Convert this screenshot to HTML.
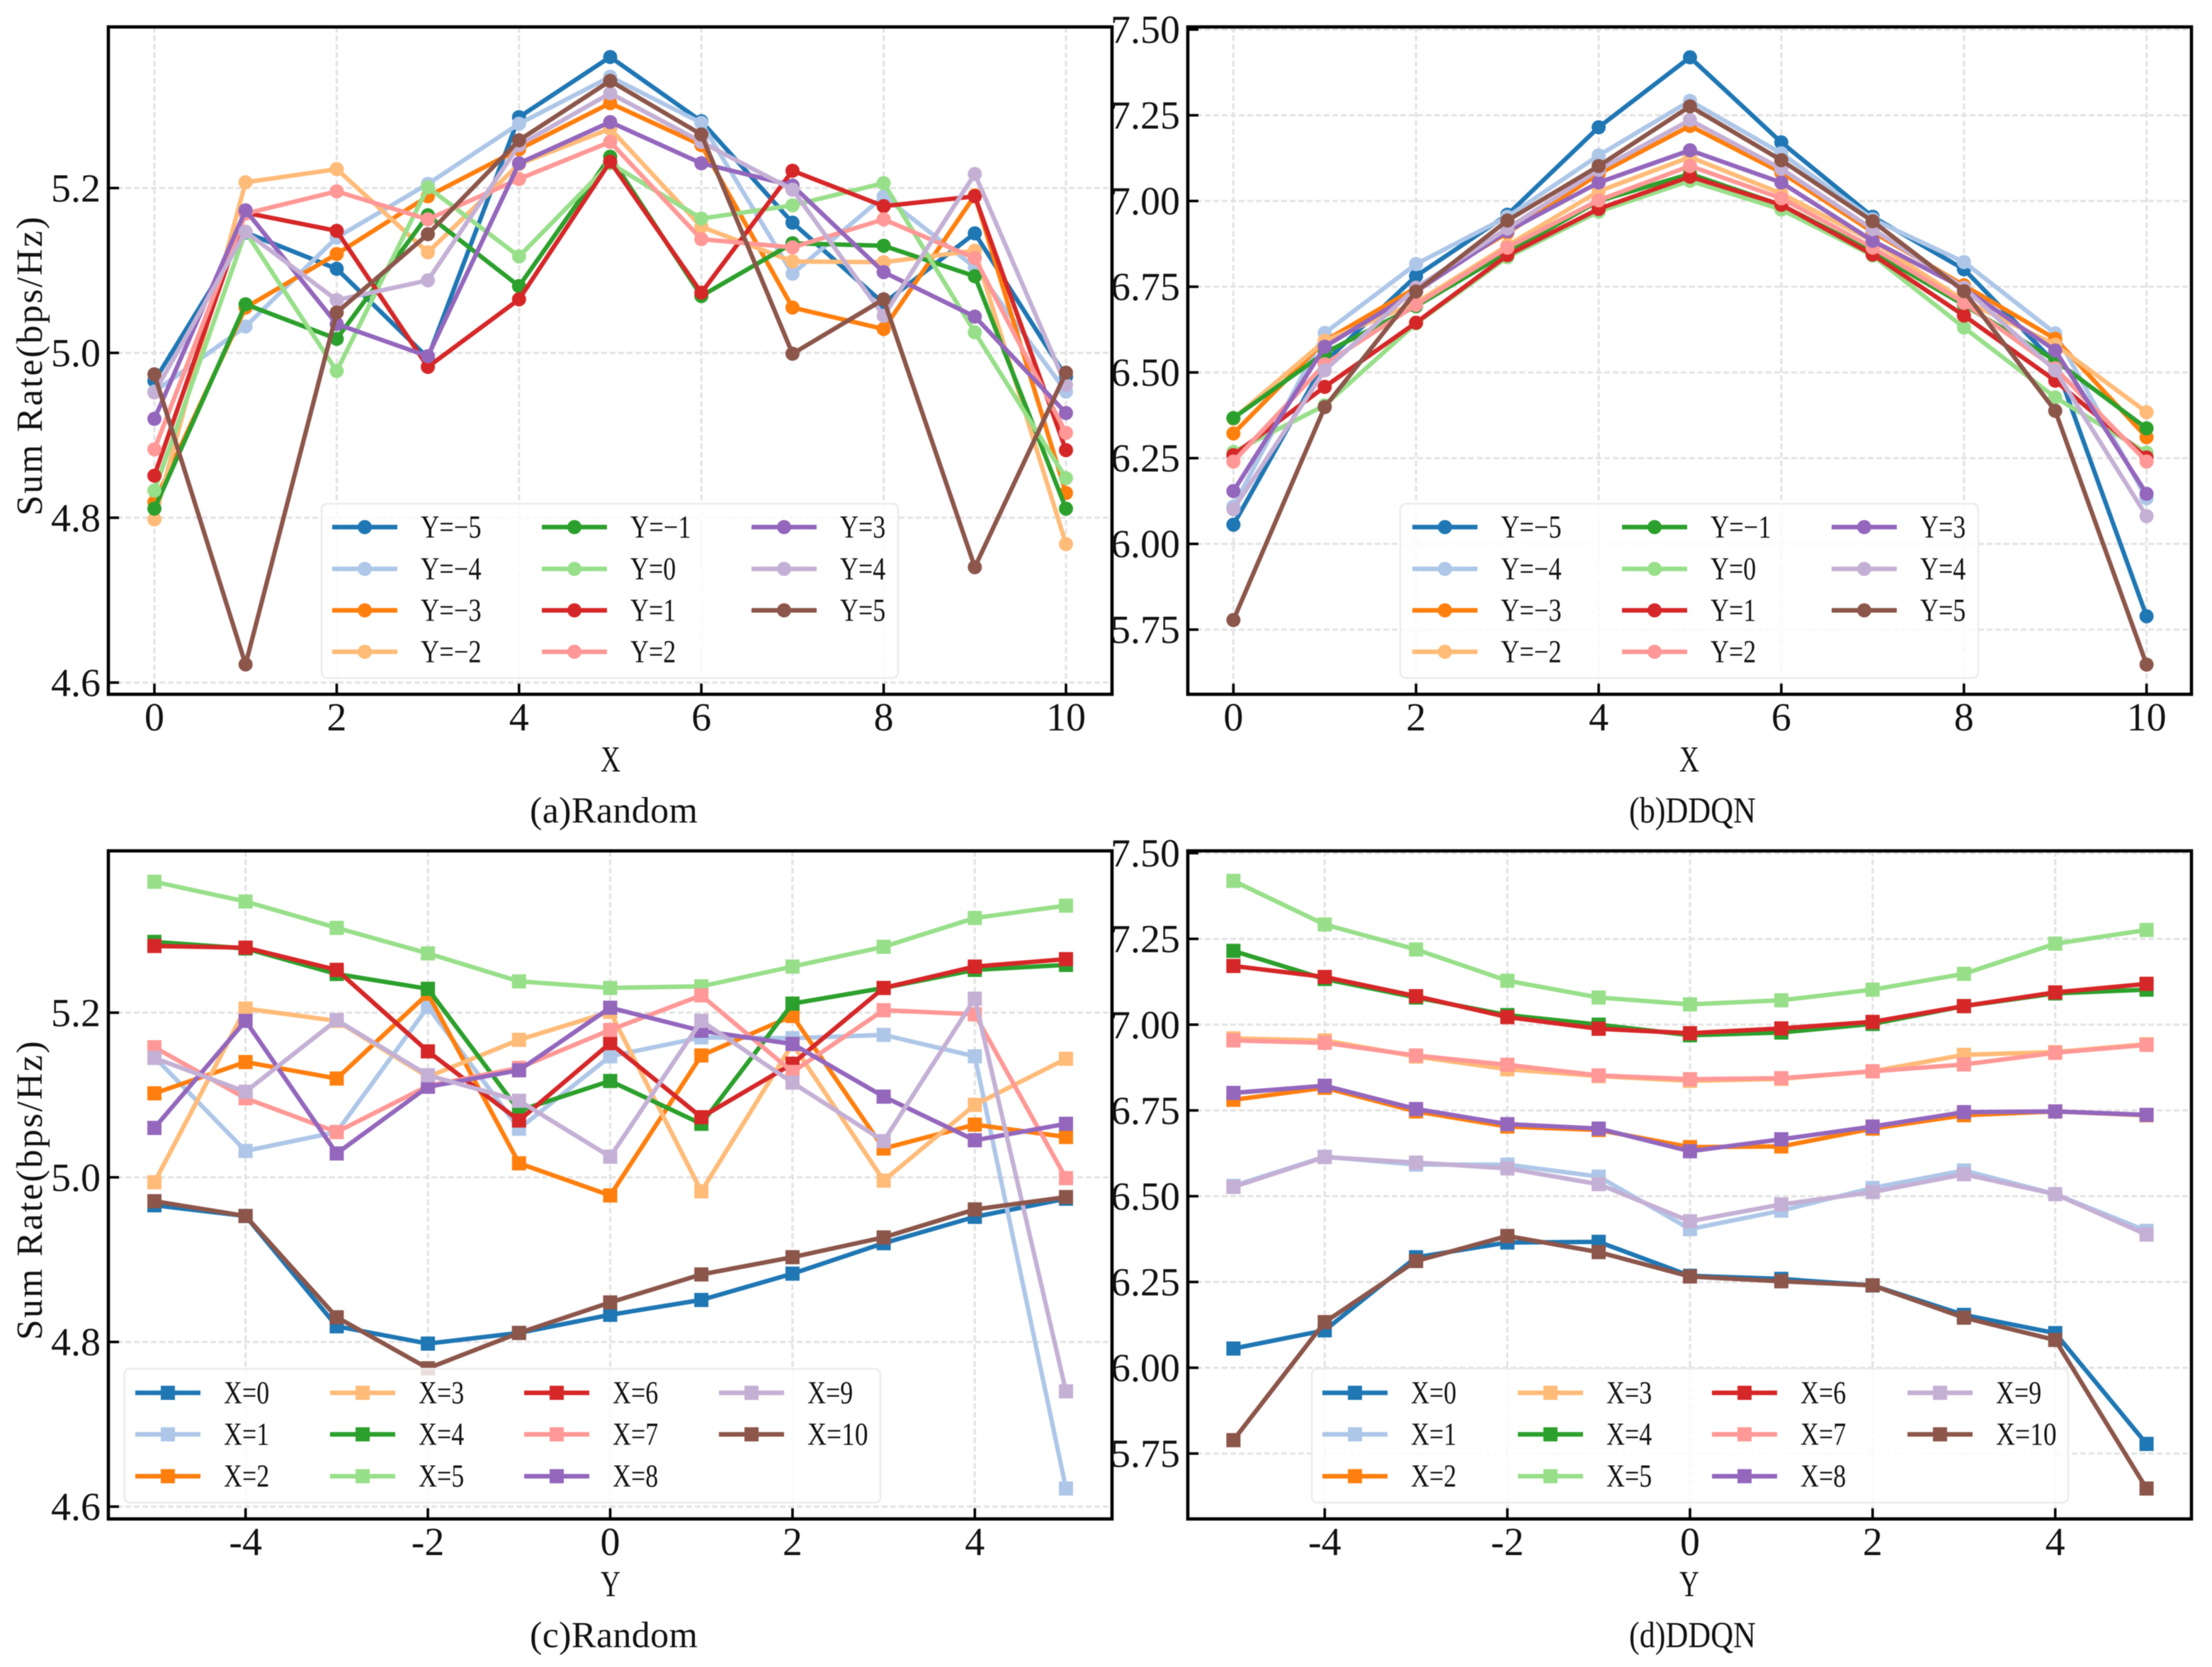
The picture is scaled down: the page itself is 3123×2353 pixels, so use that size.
<!DOCTYPE html>
<html lang="en">
<head>
<meta charset="utf-8">
<title>Sum Rate: Random vs DDQN</title>
<style>
  html, body { margin: 0; padding: 0; background: #fff; }
  svg { display: block; filter: blur(0.6px); }
  text { font-family: "Liberation Serif", "Noto Serif CJK SC", serif; fill: #111; }
</style>
</head>
<body>
<svg id="figure" xmlns="http://www.w3.org/2000/svg" width="3123" height="2353" viewBox="0 0 3123 2353">
  <rect x="0" y="0" width="3123" height="2353" fill="#ffffff"></rect>
  <g id="panel-a"></g>
  <g id="panel-b"></g>
  <g id="panel-c"></g>
  <g id="panel-d"></g>
</svg>
<script>
// Category values: each row below is one X, each column one Y.
const xCategories = [0, 1, 2, 3, 4, 5, 6, 7, 8, 9, 10];
const yCategories = [-5, -4, -3, -2, -1, 0, 1, 2, 3, 4, 5];

// Random policy: sum rate at X = n, for Y = -5 ... 5
const randomX0  = [4.966, 4.953, 4.819, 4.798, 4.811, 4.833, 4.851, 4.883, 4.920, 4.952, 4.974];
const randomX1  = [5.146, 5.032, 5.055, 5.207, 5.059, 5.147, 5.170, 5.169, 5.173, 5.147, 4.622];
const randomX2  = [5.102, 5.140, 5.120, 5.223, 5.017, 4.978, 5.148, 5.196, 5.035, 5.064, 5.049];
const randomX3  = [4.994, 5.205, 5.190, 5.122, 5.167, 5.201, 4.983, 5.162, 4.996, 5.088, 5.144];
const randomX4  = [5.286, 5.278, 5.247, 5.229, 5.081, 5.117, 5.065, 5.211, 5.230, 5.252, 5.258];
const randomX5  = [5.359, 5.335, 5.303, 5.272, 5.238, 5.230, 5.232, 5.256, 5.280, 5.315, 5.330];
const randomX6  = [5.281, 5.279, 5.252, 5.153, 5.069, 5.163, 5.073, 5.138, 5.230, 5.256, 5.265];
const randomX7  = [5.158, 5.096, 5.055, 5.111, 5.133, 5.179, 5.221, 5.128, 5.203, 5.198, 4.999];
const randomX8  = [5.060, 5.190, 5.029, 5.110, 5.130, 5.206, 5.178, 5.162, 5.098, 5.045, 5.065];
const randomX9  = [5.145, 5.104, 5.191, 5.124, 5.093, 5.025, 5.190, 5.115, 5.044, 5.217, 4.740];
const randomX10 = [4.971, 4.953, 4.830, 4.768, 4.811, 4.848, 4.882, 4.903, 4.927, 4.961, 4.976];

// DDQN policy: sum rate at X = n, for Y = -5 ... 5
const ddqnX0  = [6.056, 6.109, 6.322, 6.365, 6.367, 6.268, 6.259, 6.240, 6.154, 6.101, 5.778];
const ddqnX1  = [6.530, 6.615, 6.592, 6.592, 6.557, 6.404, 6.458, 6.524, 6.575, 6.506, 6.399];
const ddqnX2  = [6.781, 6.816, 6.747, 6.703, 6.693, 6.643, 6.645, 6.697, 6.736, 6.747, 6.736];
const ddqnX3  = [6.960, 6.954, 6.907, 6.870, 6.850, 6.836, 6.842, 6.864, 6.912, 6.920, 6.943];
const ddqnX4  = [7.215, 7.133, 7.079, 7.028, 7.000, 6.969, 6.977, 7.002, 7.054, 7.091, 7.102];
const ddqnX5  = [7.419, 7.292, 7.219, 7.128, 7.079, 7.059, 7.071, 7.102, 7.148, 7.236, 7.276];
const ddqnX6  = [7.171, 7.139, 7.083, 7.022, 6.988, 6.975, 6.989, 7.008, 7.054, 7.094, 7.119];
const ddqnX7  = [6.954, 6.947, 6.910, 6.883, 6.852, 6.841, 6.844, 6.864, 6.884, 6.918, 6.941];
const ddqnX8  = [6.801, 6.822, 6.754, 6.710, 6.697, 6.631, 6.666, 6.703, 6.745, 6.747, 6.737];
const ddqnX9  = [6.527, 6.614, 6.598, 6.581, 6.535, 6.427, 6.476, 6.512, 6.564, 6.506, 6.388];
const ddqnX10 = [5.789, 6.133, 6.311, 6.384, 6.337, 6.266, 6.252, 6.240, 6.146, 6.081, 5.648];

const randomRates = [randomX0, randomX1, randomX2, randomX3, randomX4, randomX5, randomX6, randomX7, randomX8, randomX9, randomX10];
const ddqnRates = [ddqnX0, ddqnX1, ddqnX2, ddqnX3, ddqnX4, ddqnX5, ddqnX6, ddqnX7, ddqnX8, ddqnX9, ddqnX10];

// Tick labels
const xTicksByX = [0, 2, 4, 6, 8, 10];
const xTicksByY = [-4, -2, 0, 2, 4];
const randomYTicks = ["4.6", "4.8", "5.0", "5.2"];
const ddqnYTicks = ["5.75", "6.00", "6.25", "6.50", "6.75", "7.00", "7.25", "7.50"];

const seriesColors = ["#1f77b4", "#aec7e8", "#ff7f0e", "#ffbb78", "#2ca02c", "#98df8a", "#d62728", "#ff9896", "#9467bd", "#c5b0d5", "#8c564b"];

const NS = "http://www.w3.org/2000/svg";

function make(parent, tag, attrs) {
  const el = document.createElementNS(NS, tag);
  for (const k in attrs) el.setAttribute(k, attrs[k]);
  parent.appendChild(el);
  return el;
}

function drawMarker(parent, kind, cx, cy, color) {
  if (kind === "circle") {
    return make(parent, "circle", { cx: cx, cy: cy, r: 10, fill: color });
  }
  return make(parent, "rect", { x: cx - 10, y: cy - 10, width: 20, height: 20, fill: color });
}

function drawPanel(cfg) {
  const root = document.getElementById(cfg.id);
  const xScale = function (v) { return cfg.x0 + (v - cfg.xRef) * cfg.xUnit; };
  const yScale = function (v) { return cfg.yRefPx + (cfg.yRef - v) * cfg.yUnit; };

  // Grid
  cfg.xTicks.forEach(function (t) {
    const g = make(root, "line", { x1: xScale(t), x2: xScale(t), y1: cfg.top, y2: cfg.bottom, stroke: "#e3e3e3", "stroke-width": 3.2, "stroke-dasharray": "8 4" });
    
    
  });
  cfg.yTicks.forEach(function (t) {
    const v = parseFloat(t);
    const g = make(root, "line", { x1: cfg.left, x2: cfg.right, y1: yScale(v), y2: yScale(v), stroke: "#e3e3e3", "stroke-width": 3.2, "stroke-dasharray": "8 4" });
    
    
  });

  // Series
  cfg.series.forEach(function (s, i) {
    const group = make(root, "g", {});
    
    
    const pts = s.values.map(function (v, j) { return xScale(cfg.categories[j]).toFixed(1) + "," + yScale(v).toFixed(1); }).join(" ");
    const line = make(group, "polyline", { points: pts, fill: "none", stroke: seriesColors[i], "stroke-width": 6.3, "stroke-linejoin": "round" });
    
    
    s.values.forEach(function (v, j) {
      const m = drawMarker(group, cfg.marker, xScale(cfg.categories[j]), yScale(v), seriesColors[i]);
      
      
    });
  });

  // Legend
  const lg = make(root, "g", {});
  
  
  const frame = make(lg, "rect", { x: cfg.legend.x, y: cfg.legend.y, width: cfg.legend.w, height: cfg.legend.h, rx: 8, ry: 8, fill: "#ffffff", "fill-opacity": 0.8, stroke: "#ebebeb", "stroke-width": 2.5 });
  
  
  cfg.series.forEach(function (s, i) {
    const counts = cfg.legend.columnCounts;
    let col = 0, rem = i;
    while (rem >= counts[col]) { rem -= counts[col]; col++; }
    const ry = cfg.legend.rows[rem];
    const hx = cfg.legend.cols[col];
    const entry = make(lg, "g", {});
    
    
    const h = make(entry, "line", { x1: hx, x2: hx + 92, y1: ry, y2: ry, stroke: seriesColors[i], "stroke-width": 6.5 });
    
    
    const mk = drawMarker(entry, cfg.marker, hx + 46, ry, seriesColors[i]);
    
    
    const label = s.label;
    const t = make(entry, "text", { x: hx + 125, y: ry + 15, "font-size": 45, textLength: (21.4 * label.length).toFixed(1), lengthAdjust: "spacingAndGlyphs" });
    t.textContent = label;
    
    
  });

  // Ticks and tick labels
  cfg.xTicks.forEach(function (t) {
    const tk = make(root, "line", { x1: xScale(t), x2: xScale(t), y1: cfg.bottom, y2: cfg.bottom - 15, stroke: "#000", "stroke-width": 3.6 });
    
    
    const lb = make(root, "text", { x: xScale(t), y: cfg.bottom + 51, "font-size": 56, "text-anchor": "middle" });
    lb.textContent = String(t);
    
    
  });
  cfg.yTicks.forEach(function (t) {
    const v = parseFloat(t);
    const tk = make(root, "line", { x1: cfg.left, x2: cfg.left + 15, y1: yScale(v), y2: yScale(v), stroke: "#000", "stroke-width": 3.6 });
    
    
    const lb = make(root, "text", { x: cfg.left - 11, y: yScale(v) + 19, "font-size": 56, "text-anchor": "end" });
    lb.textContent = t;
    
    
  });

  // Spines
  const sp = make(root, "rect", { x: cfg.left, y: cfg.top, width: cfg.right - cfg.left, height: cfg.bottom - cfg.top, fill: "none", stroke: "#000", "stroke-width": 4.6 });
  
  

  // Axis titles
  const xt = make(root, "text", { x: cfg.xTitleX - 14, y: cfg.bottom + 109, "font-size": 52, textLength: 28, lengthAdjust: "spacingAndGlyphs" });
  xt.textContent = cfg.xTitle;
  
  

  if (cfg.yTitle) {
    const midY = (cfg.top + cfg.bottom) / 2 + 8;
    const yt = make(root, "text", { x: 0, y: 0, "font-size": 52, textLength: 422, lengthAdjust: "spacing", transform: "translate(59," + (midY + 211) + ") rotate(-90)" });
    yt.textContent = cfg.yTitle;
    
    
  }

  const cap = make(root, "text", { x: cfg.captionX, y: cfg.bottom + 181, "font-size": 52, textLength: cfg.captionLen, lengthAdjust: cfg.captionAdjust });
  cap.textContent = cfg.caption;
  
  
}

function seriesByY(rates) {
  return yCategories.map(function (y, j) {
    return { key: "y" + y, label: "Y=" + String(y).replace("-", "\u2212"), values: rates.map(function (row) { return row[j]; }) };
  });
}
function seriesByX(rates) {
  return xCategories.map(function (x, i) {
    return { key: "x" + x, label: "X=" + x, values: rates[i] };
  });
}

const topCounts = [4, 4, 3];
const bottomCounts = [3, 3, 3, 2];

drawPanel({
  id: "panel-a", left: 153, right: 1570, top: 38, bottom: 980,
  x0: 218, xRef: 0, xUnit: 128.7, yRef: 5.0, yRefPx: 498.1, yUnit: 1163.4,
  categories: xCategories, xTicks: xTicksByX, yTicks: randomYTicks,
  series: seriesByY(randomRates), marker: "circle", legendPrefix: "Y",
  legend: { x: 454, y: 711, w: 814, h: 246, rows: [744, 803, 861.5, 920], cols: [469, 765, 1061], columnCounts: topCounts },
  xTitle: "X", xTitleX: 862, yTitle: "Sum Rate(bps/Hz)", caption: "(a)Random", captionX: 748, captionLen: 237, captionAdjust: "spacing"
});
drawPanel({
  id: "panel-b", left: 1677, right: 3094, top: 38, bottom: 980,
  x0: 1741.4, xRef: 0, xUnit: 128.92, yRef: 7.0, yRefPx: 283.7, yUnit: 484,
  categories: xCategories, xTicks: xTicksByX, yTicks: ddqnYTicks,
  series: seriesByY(ddqnRates), marker: "circle", legendPrefix: "Y",
  legend: { x: 1977, y: 711, w: 816, h: 246, rows: [744, 803, 861.5, 920], cols: [1994, 2290, 2586], columnCounts: topCounts },
  xTitle: "X", xTitleX: 2385, yTitle: "", caption: "(b)DDQN", captionX: 2300, captionLen: 179, captionAdjust: "spacingAndGlyphs"
});
drawPanel({
  id: "panel-c", left: 153, right: 1570, top: 1201, bottom: 2144,
  x0: 218, xRef: -5, xUnit: 128.7, yRef: 5.0, yRefPx: 1661.8, yUnit: 1162,
  categories: yCategories, xTicks: xTicksByY, yTicks: randomYTicks,
  series: seriesByX(randomRates), marker: "square", legendPrefix: "X",
  legend: { x: 175.5, y: 1932, w: 1067.5, h: 189, rows: [1966, 2024.6, 2083.7], cols: [191, 466, 740, 1015], columnCounts: bottomCounts },
  xTitle: "Y", xTitleX: 862, yTitle: "Sum Rate(bps/Hz)", caption: "(c)Random", captionX: 748, captionLen: 237, captionAdjust: "spacing"
});
drawPanel({
  id: "panel-d", left: 1677, right: 3094, top: 1201, bottom: 2144,
  x0: 1741.4, xRef: -5, xUnit: 128.92, yRef: 7.0, yRefPx: 1446.3, yUnit: 484.3,
  categories: yCategories, xTicks: xTicksByY, yTicks: ddqnYTicks,
  series: seriesByX(ddqnRates), marker: "square", legendPrefix: "X",
  legend: { x: 1852, y: 1932, w: 1068, h: 189, rows: [1966, 2024.6, 2083.7], cols: [1867, 2143, 2417, 2693], columnCounts: bottomCounts },
  xTitle: "Y", xTitleX: 2385, yTitle: "", caption: "(d)DDQN", captionX: 2300, captionLen: 179, captionAdjust: "spacingAndGlyphs"
});
</script>
</body>
</html>
